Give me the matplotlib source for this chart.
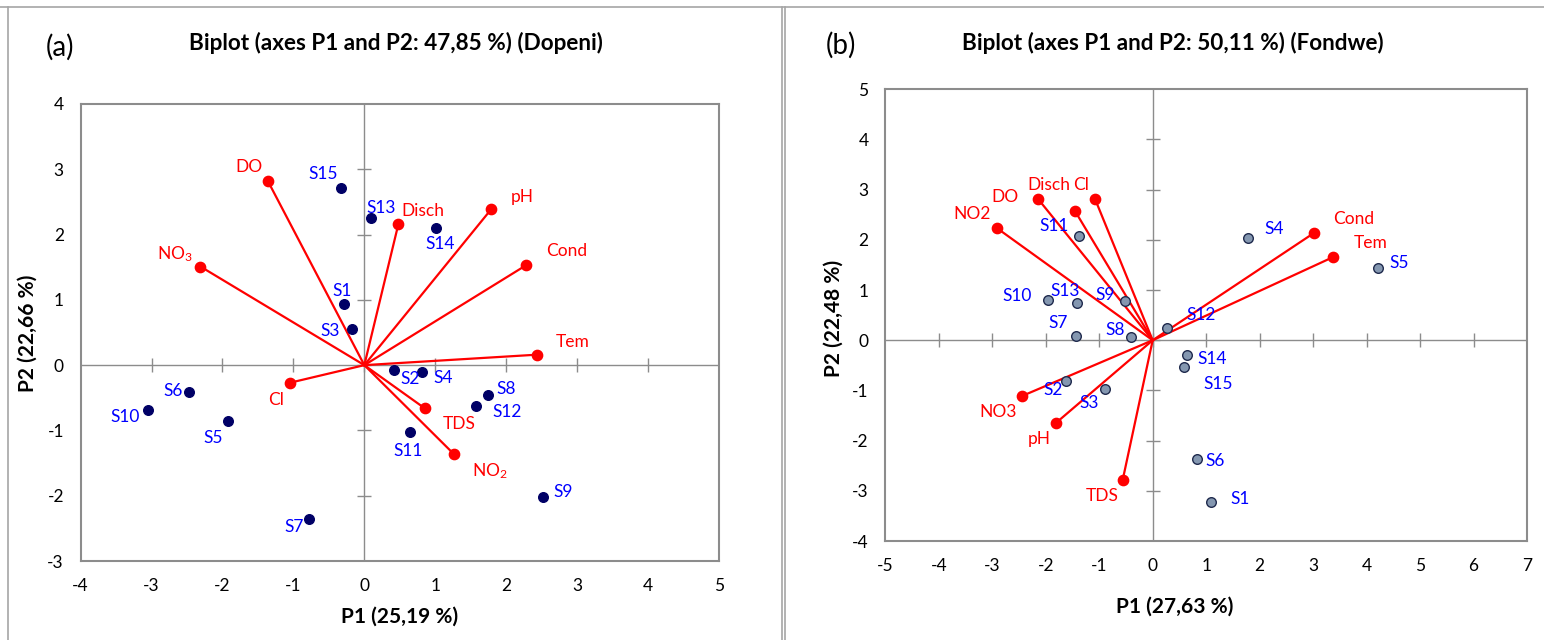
import numpy as np
import matplotlib
matplotlib.use('Agg')
import matplotlib.pyplot as plt
from matplotlib.lines import Line2D

plt.rcParams['font.family'] = ['Lato', 'DejaVu Sans']
plt.rcParams['mathtext.default'] = 'regular'
plt.rcParams['axes.unicode_minus'] = False

# ---- panel (a) Dopeni ----
sites_a = ['S1', 'S2', 'S3', 'S4', 'S5', 'S6', 'S7', 'S8', 'S9', 'S10',
           'S11', 'S12', 'S13', 'S14', 'S15']
site_x_a = [-0.28, 0.42, -0.18, 0.82, -1.92, -2.47, -0.78, 1.74, 2.52, -3.05,
            0.65, 1.58, 0.10, 1.01, -0.33]
site_y_a = [0.93, -0.08, 0.55, -0.11, -0.86, -0.41, -2.35, -0.45, -2.02, -0.68,
            -1.02, -0.62, 2.25, 2.10, 2.72]
vars_a = ['DO', 'Disch', 'pH', 'Cond', 'NO$_3$', 'Tem', 'Cl', 'TDS', 'NO$_2$']
var_x_a = [-1.36, 0.48, 1.79, 2.28, -2.31, 2.43, -1.05, 0.85, 1.26]
var_y_a = [2.82, 2.16, 2.39, 1.53, 1.51, 0.16, -0.27, -0.66, -1.36]

# ---- panel (b) Fondwe ----
sites_b = ['S1', 'S2', 'S3', 'S4', 'S5', 'S6', 'S7', 'S8', 'S9', 'S10',
           'S11', 'S12', 'S13', 'S14', 'S15']
site_x_b = [1.10, -1.62, -0.89, 1.78, 4.22, 0.82, -1.43, -0.41, -0.51, -1.95,
            -1.37, 0.27, -1.42, 0.64, 0.58]
site_y_b = [-3.22, -0.82, -0.97, 2.03, 1.44, -2.37, 0.09, 0.06, 0.78, 0.81,
            2.08, 0.24, 0.75, -0.30, -0.54]
vars_b = ['NO2', 'DO', 'Disch', 'Cl', 'Cond', 'Tem', 'NO3', 'pH', 'TDS']
var_x_b = [-2.92, -2.14, -1.45, -1.08, 3.02, 3.38, -2.44, -1.80, -0.56]
var_y_b = [2.24, 2.81, 2.57, 2.82, 2.14, 1.66, -1.11, -1.64, -2.78]

# label offsets in pixels (dx, dy)
site_off_a = [(-2, 13), (16, -9), (-21, -2), (21, -6), (-15, -17), (-16, 1),
              (-15, -8), (18, 6), (20, 5), (-23, -7), (-2, -19), (31, -6),
              (10, 10), (4, -16), (-18, 14)]
var_off_a = [(-19, 14), (24, 13), (31, 12), (41, 14), (-26, 12), (36, 13),
             (-14, -17), (35, -16), (36, -17)]
site_off_b = [(29, 3), (-13, -9), (-16, -14), (26, 9), (21, 5), (19, -2),
              (-18, 13), (-16, 7), (-20, 6), (-31, 4), (-25, 10), (34, 13),
              (-12, 12), (25, -4), (34, -17)]
var_off_b = [(-24, 14), (-33, 2), (-26, 26), (-14, 14), (40, 14), (37, 14),
             (-24, -16), (-17, -16), (-21, -16)]

GREY = '#8c8c8c'
RED = '#ff0000'
BLUE = '#0000ff'


def draw_biplot(ax, xlim, ylim, sx, sy, snames, soff, vx, vy, vnames, voff,
                dot_face, dot_edge):
    ax.set_xlim(*xlim)
    ax.set_ylim(*ylim)
    xt = np.arange(xlim[0], xlim[1] + 1)
    yt = np.arange(ylim[0], ylim[1] + 1)
    ax.set_xticks(xt)
    ax.set_yticks(yt)
    ax.tick_params(length=0, labelsize=12.5, pad=12)
    for s in ax.spines.values():
        s.set_color(GREY)
        s.set_linewidth(1.5)
    # zero lines with crossing ticks
    ax.axhline(0, color=GREY, lw=1, zorder=1)
    ax.axvline(0, color=GREY, lw=1, zorder=1)
    ax.plot(xt[1:-1], np.zeros(len(xt) - 2), ls='none', marker='|', ms=10,
            mew=1, color=GREY, zorder=1)
    ax.plot(np.zeros(len(yt) - 2), yt[1:-1], ls='none', marker='_', ms=10,
            mew=1, color=GREY, zorder=1)
    # vectors
    for x, y in zip(vx, vy):
        ax.plot([0, x], [0, y], color=RED, lw=1.6, zorder=2)
    ax.scatter(vx, vy, s=55, color=RED, zorder=3)
    # sites
    ax.scatter(sx, sy, s=48, facecolor=dot_face, edgecolor=dot_edge,
               linewidth=1, zorder=4)
    for x, y, n, o in zip(sx, sy, snames, soff):
        ax.annotate(n, (x, y), xytext=o, textcoords='offset pixels',
                    ha='center', va='center', color=BLUE, fontsize=12.5,
                    zorder=5)
    for x, y, n, o in zip(vx, vy, vnames, voff):
        ax.annotate(n, (x, y), xytext=o, textcoords='offset pixels',
                    ha='center', va='center', color=RED, fontsize=12.5,
                    zorder=5)


fig = plt.figure(figsize=(15.44, 6.4), dpi=100)

# panel frames
W, H = 1544, 640
frame_kw = dict(color='#a6a6a6', lw=1.2, transform=fig.transFigure)
fig.add_artist(Line2D([0, 1], [1 - 7 / H, 1 - 7 / H], **frame_kw))
fig.add_artist(Line2D([8 / W, 8 / W], [0, 1 - 7 / H], **frame_kw))
fig.add_artist(Line2D([782 / W, 782 / W], [0, 1 - 7 / H], **frame_kw))
fig.add_artist(Line2D([785 / W, 785 / W], [0, 1 - 7 / H], **frame_kw))

ax1 = fig.add_axes([80.6 / W, 1 - 561 / H, (719 - 80.6) / W, (561 - 104) / H])
draw_biplot(ax1, (-4, 5), (-3, 4), site_x_a, site_y_a, sites_a, site_off_a,
            var_x_a, var_y_a, vars_a, var_off_a, '#000066', '#000066')

ax2 = fig.add_axes([885.3 / W, 1 - 541 / H, (1527 - 885.3) / W, (541 - 89.3) / H])
draw_biplot(ax2, (-5, 7), (-4, 5), site_x_b, site_y_b, sites_b, site_off_b,
            var_x_b, var_y_b, vars_b, var_off_b, '#8497b0', '#1f2a4d')

# titles and axis labels
TITLE = 16.2
LABEL = 15
fig.text(60 / W, 1 - 47 / H, '(a)', fontsize=20, ha='center', va='center')
fig.text(396 / W, 1 - 43 / H, 'Biplot (axes P1 and P2: 47,85 %) (Dopeni)',
         fontsize=TITLE, fontweight='bold', ha='center', va='center')
fig.text(841 / W, 1 - 45 / H, '(b)', fontsize=20, ha='center', va='center')
fig.text(1173 / W, 1 - 43 / H, 'Biplot (axes P1 and P2: 50,11 %) (Fondwe)',
         fontsize=TITLE, fontweight='bold', ha='center', va='center')

fig.text(400 / W, 1 - 617 / H, 'P1 (25,19 %)', fontsize=LABEL,
         fontweight='bold', ha='center', va='center')
fig.text(1175 / W, 1 - 607 / H, 'P1 (27,63 %)', fontsize=LABEL,
         fontweight='bold', ha='center', va='center')
fig.text(28 / W, 1 - 333 / H, 'P2 (22,66 %)', fontsize=LABEL,
         fontweight='bold', ha='center', va='center', rotation=90)
fig.text(834 / W, 1 - 318 / H, 'P2 (22,48 %)', fontsize=LABEL,
         fontweight='bold', ha='center', va='center', rotation=90)

fig.savefig('out.png', dpi=100)
